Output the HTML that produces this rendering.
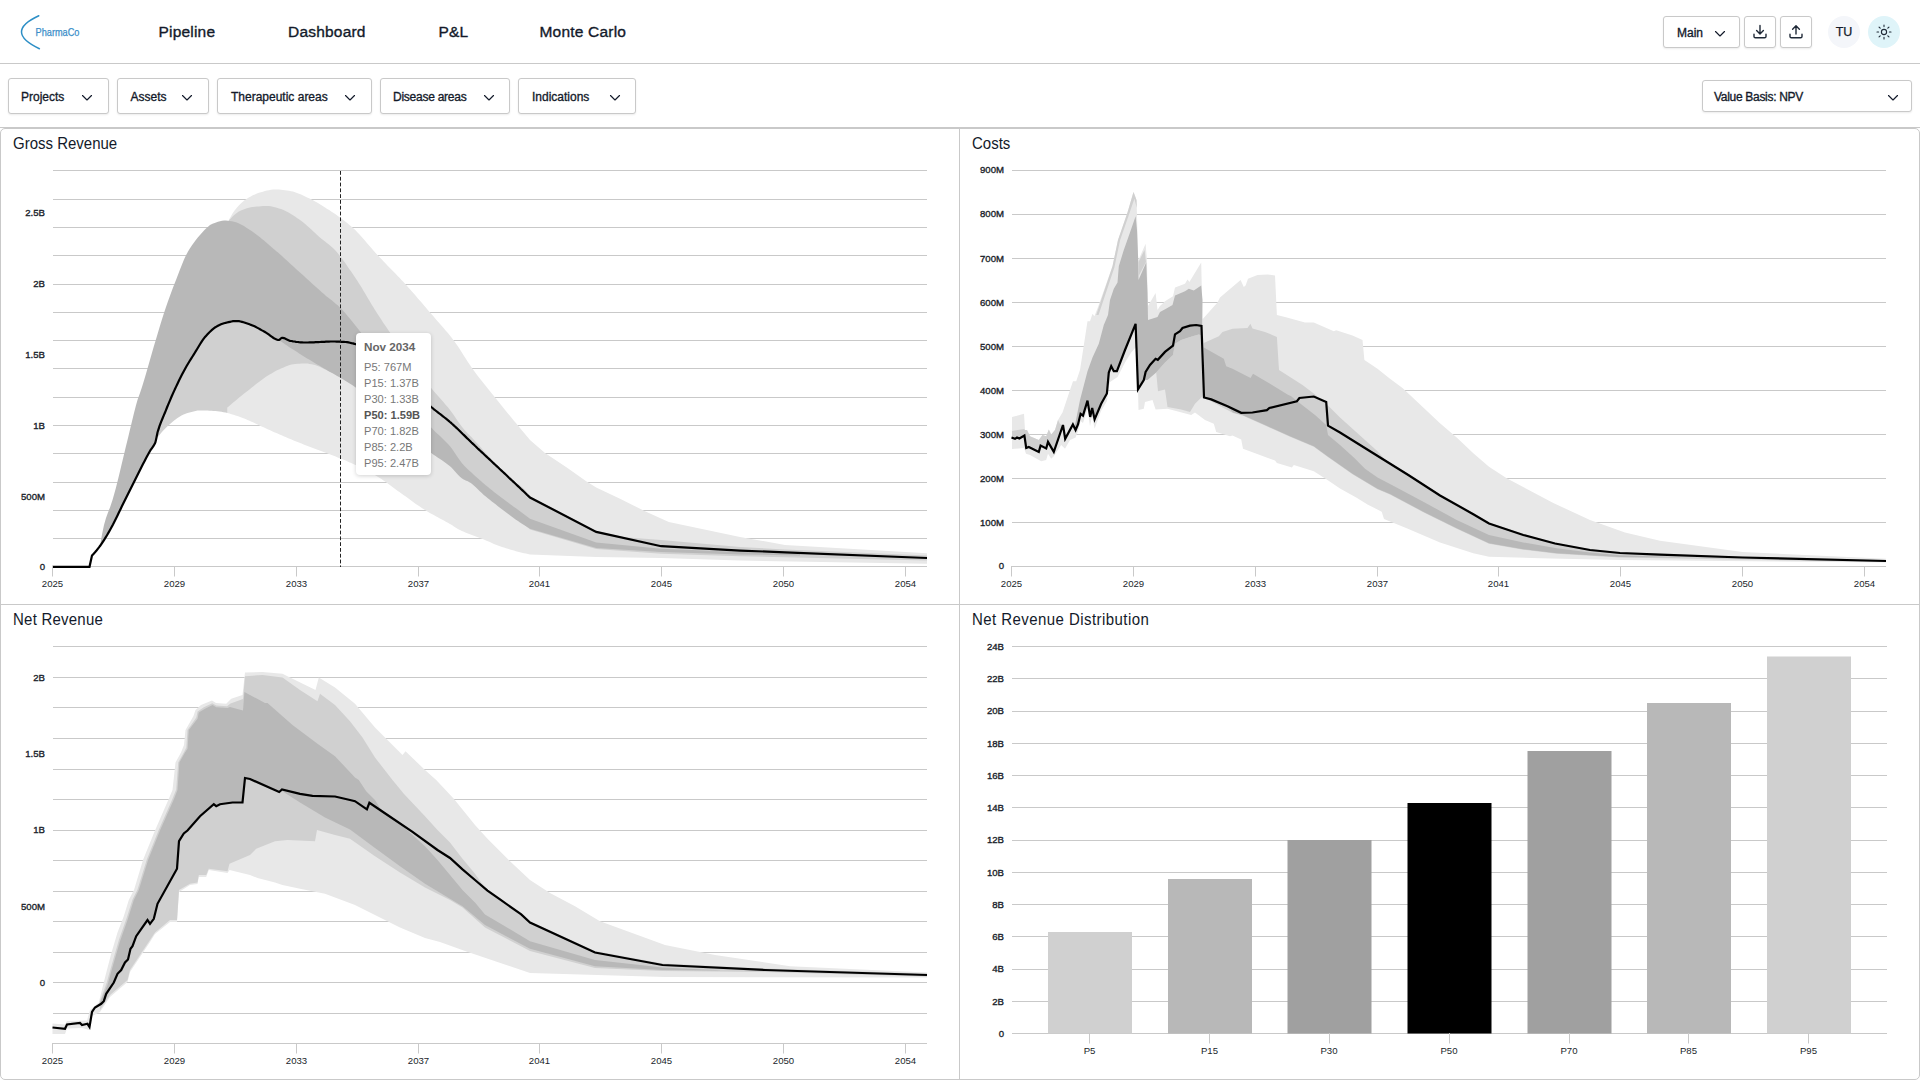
<!DOCTYPE html>
<html lang="en">
<head>
<meta charset="utf-8">
<title>PharmaCo - Monte Carlo</title>
<style>
*{box-sizing:border-box;margin:0;padding:0}
html,body{width:1920px;height:1080px;overflow:hidden;background:#fff}
body{font-family:"Liberation Sans",sans-serif;color:#131a2a;position:relative}
.hdr{position:absolute;left:0;top:0;width:1920px;height:64px;border-bottom:1px solid #c9c9c9;background:#fff}
.logo{position:absolute;left:0;top:0;width:110px;height:64px}
.nav a{position:absolute;top:23px;font-size:15.5px;line-height:18px;color:#131a2a;text-decoration:none;letter-spacing:.2px;-webkit-text-stroke:.35px #131a2a;white-space:nowrap}
.btn{position:absolute;border:1px solid #c9c9c9;border-radius:3px;background:#fff;box-shadow:0 1px 2px rgba(0,0,0,.08);font-size:12px;color:#131a2a;white-space:nowrap}
.btn span{position:absolute;top:0;line-height:100%;-webkit-text-stroke:.32px #131a2a}
.btn svg{position:absolute}
.av{position:absolute;width:32px;height:32px;border-radius:16px;top:16px;font-size:12.5px;line-height:33.5px;text-align:center;-webkit-text-stroke:.25px #131a2a}
.fbar{position:absolute;left:0;top:64px;width:1920px;height:64px;border-bottom:1px solid #c9c9c9}
.wrap{position:absolute;left:0;top:128px;width:1920px;height:952px;border:1px solid #c9c9c9;border-radius:5px}
.vline{position:absolute;left:959px;top:129px;width:1px;height:950px;background:#c9c9c9}
.hline{position:absolute;left:1px;top:604px;width:1918px;height:1px;background:#c9c9c9}
.ttl{position:absolute;font-size:15px;line-height:20px;color:#131a2a;white-space:nowrap;transform:scale(1,1.06);transform-origin:0 15px}
.charts{position:absolute;left:0;top:0}
.tip{position:absolute;left:356px;top:333px;width:75px;height:142px;background:#fff;border-radius:4px;box-shadow:0 1px 4px rgba(0,0,0,.18);font-size:11.1px;color:#777;white-space:nowrap}
.tip div{position:absolute;left:8px;line-height:14px}
.tip .h{font-weight:bold;color:#666;font-size:11.7px}
.tip .b{font-weight:bold;color:#555}
</style>
</head>
<body>
<div class="hdr">
  <svg class="logo" viewBox="0 0 110 64">
    <path d="M38.8 15.7 Q3.9 31.8 39.4 48.7" fill="none" stroke="#2d8fc6" stroke-width="1.5" stroke-linecap="round"/>
    <text x="35.6" y="35.7" font-family="'Liberation Sans', sans-serif" font-size="10.4" fill="#3a8ec9" stroke="#3a8ec9" stroke-width="0.25" textLength="43.8" lengthAdjust="spacingAndGlyphs">PharmaCo</text>
  </svg>
  <div class="nav">
    <a style="left:158.5px">Pipeline</a>
    <a style="left:288px">Dashboard</a>
    <a style="left:438.5px">P&amp;L</a>
    <a style="left:539.5px">Monte Carlo</a>
  </div>
  <div class="btn" style="left:1663px;top:16px;width:77px;height:32px"><span style="left:13px;top:10px">Main</span>
    <svg style="left:50px;top:13px" width="12" height="8" viewBox="0 0 12 8"><path d="M1.5 1.5 L6 6 L10.5 1.5" fill="none" stroke="#131a2a" stroke-width="1.15" stroke-linecap="round" stroke-linejoin="round"/></svg></div>
  <div class="btn" style="left:1744px;top:16px;width:32px;height:32px">
    <svg style="left:7px;top:7px" width="16" height="16" viewBox="0 0 16 16"><path d="M8 1.5 V9.6 M4.6 6.6 L8 10 L11.4 6.6 M2 10.2 V12.4 Q2 13.8 3.4 13.8 H12.6 Q14 13.8 14 12.4 V10.2" fill="none" stroke="#1f2937" stroke-width="1.4" stroke-linecap="round" stroke-linejoin="round"/></svg></div>
  <div class="btn" style="left:1780px;top:16px;width:32px;height:32px">
    <svg style="left:7px;top:7px" width="16" height="16" viewBox="0 0 16 16"><path d="M8 10 V2 M4.6 5.2 L8 1.8 L11.4 5.2 M2 10.2 V12.4 Q2 13.8 3.4 13.8 H12.6 Q14 13.8 14 12.4 V10.2" fill="none" stroke="#1f2937" stroke-width="1.4" stroke-linecap="round" stroke-linejoin="round"/></svg></div>
  <div class="av" style="left:1828px;background:#f4f6fa">TU</div>
  <div class="av" style="left:1868px;background:#dff4f9">
    <svg style="position:absolute;left:8px;top:8px" width="16" height="16" viewBox="0 0 16 16"><g fill="none" stroke="#1f2937" stroke-width="1.1" stroke-linecap="round"><circle cx="8" cy="8" r="2.6"/><path d="M8 1 V2.6 M8 13.4 V15 M1 8 H2.6 M13.4 8 H15 M3.05 3.05 L4.2 4.2 M11.8 11.8 L12.95 12.95 M3.05 12.95 L4.2 11.8 M11.8 4.2 L12.95 3.05"/></g></svg>
  </div>
</div>

<div class="fbar">
  <div class="btn" style="left:8px;top:14px;width:101px;height:36px"><span style="left:12px;top:12px">Projects</span><svg style="left:72px;top:15px" width="12" height="8" viewBox="0 0 12 8"><path d="M1.5 1.5 L6 6 L10.5 1.5" fill="none" stroke="#131a2a" stroke-width="1.15" stroke-linecap="round" stroke-linejoin="round"/></svg></div>
  <div class="btn" style="left:117px;top:14px;width:92px;height:36px"><span style="left:12.5px;top:12px">Assets</span><svg style="left:63px;top:15px" width="12" height="8" viewBox="0 0 12 8"><path d="M1.5 1.5 L6 6 L10.5 1.5" fill="none" stroke="#131a2a" stroke-width="1.15" stroke-linecap="round" stroke-linejoin="round"/></svg></div>
  <div class="btn" style="left:217px;top:14px;width:155px;height:36px"><span style="left:13px;top:12px">Therapeutic areas</span><svg style="left:126px;top:15px" width="12" height="8" viewBox="0 0 12 8"><path d="M1.5 1.5 L6 6 L10.5 1.5" fill="none" stroke="#131a2a" stroke-width="1.15" stroke-linecap="round" stroke-linejoin="round"/></svg></div>
  <div class="btn" style="left:380px;top:14px;width:130px;height:36px"><span style="left:12px;top:12px;letter-spacing:-.25px">Disease areas</span><svg style="left:102px;top:15px" width="12" height="8" viewBox="0 0 12 8"><path d="M1.5 1.5 L6 6 L10.5 1.5" fill="none" stroke="#131a2a" stroke-width="1.15" stroke-linecap="round" stroke-linejoin="round"/></svg></div>
  <div class="btn" style="left:518px;top:14px;width:118px;height:36px"><span style="left:13px;top:12px">Indications</span><svg style="left:90px;top:15px" width="12" height="8" viewBox="0 0 12 8"><path d="M1.5 1.5 L6 6 L10.5 1.5" fill="none" stroke="#131a2a" stroke-width="1.15" stroke-linecap="round" stroke-linejoin="round"/></svg></div>
  <div class="btn" style="left:1702px;top:16px;width:210px;height:32px"><span style="left:11px;top:10px;letter-spacing:-.3px">Value Basis: NPV</span><svg style="left:184px;top:13px" width="12" height="8" viewBox="0 0 12 8"><path d="M1.5 1.5 L6 6 L10.5 1.5" fill="none" stroke="#131a2a" stroke-width="1.15" stroke-linecap="round" stroke-linejoin="round"/></svg></div>
</div>

<div class="wrap"></div>
<div class="vline"></div>
<div class="hline"></div>
<div class="ttl" style="left:13px;top:134px">Gross Revenue</div>
<div class="ttl" style="left:972px;top:134px">Costs</div>
<div class="ttl" style="left:13px;top:610px;letter-spacing:.23px">Net Revenue</div>
<div class="ttl" style="left:972px;top:610px;letter-spacing:.44px">Net Revenue Distribution</div>

<svg class="charts" width="1920" height="1080" viewBox="0 0 1920 1080">
<g font-family="'Liberation Sans', sans-serif" fill="#1a1f2b">
<line x1="53.0" x2="927.0" y1="566.5" y2="566.5" stroke="#c9c9c9" stroke-width="1"/>
<line x1="53.0" x2="927.0" y1="538.5" y2="538.5" stroke="#c9c9c9" stroke-width="1"/>
<line x1="53.0" x2="927.0" y1="510.5" y2="510.5" stroke="#c9c9c9" stroke-width="1"/>
<line x1="53.0" x2="927.0" y1="482.5" y2="482.5" stroke="#c9c9c9" stroke-width="1"/>
<line x1="53.0" x2="927.0" y1="453.5" y2="453.5" stroke="#c9c9c9" stroke-width="1"/>
<line x1="53.0" x2="927.0" y1="425.5" y2="425.5" stroke="#c9c9c9" stroke-width="1"/>
<line x1="53.0" x2="927.0" y1="397.5" y2="397.5" stroke="#c9c9c9" stroke-width="1"/>
<line x1="53.0" x2="927.0" y1="368.5" y2="368.5" stroke="#c9c9c9" stroke-width="1"/>
<line x1="53.0" x2="927.0" y1="340.5" y2="340.5" stroke="#c9c9c9" stroke-width="1"/>
<line x1="53.0" x2="927.0" y1="312.5" y2="312.5" stroke="#c9c9c9" stroke-width="1"/>
<line x1="53.0" x2="927.0" y1="284.5" y2="284.5" stroke="#c9c9c9" stroke-width="1"/>
<line x1="53.0" x2="927.0" y1="255.5" y2="255.5" stroke="#c9c9c9" stroke-width="1"/>
<line x1="53.0" x2="927.0" y1="227.5" y2="227.5" stroke="#c9c9c9" stroke-width="1"/>
<line x1="53.0" x2="927.0" y1="199.5" y2="199.5" stroke="#c9c9c9" stroke-width="1"/>
<line x1="53.0" x2="927.0" y1="170.5" y2="170.5" stroke="#c9c9c9" stroke-width="1"/>
<polygon points="228.8,220.0 230.8,216.4 232.8,213.1 234.8,210.3 235.0,210.0 236.8,207.8 238.8,205.6 240.8,203.5 242.8,201.7 244.8,200.1 245.0,200.0 246.8,198.8 248.8,197.5 250.8,196.4 252.8,195.3 254.9,194.4 256.9,193.6 258.9,192.8 260.0,192.5 260.9,192.2 262.9,191.7 264.9,191.1 266.9,190.6 268.9,190.2 270.9,189.8 272.9,189.6 274.9,189.5 275.0,189.5 276.9,189.5 279.0,189.6 281.0,189.8 283.0,190.0 285.0,190.3 287.0,190.5 289.0,190.8 290.0,191.0 291.0,191.2 293.0,191.6 295.0,192.2 297.0,192.9 299.0,193.7 301.1,194.5 303.1,195.4 305.1,196.4 307.1,197.4 309.1,198.3 310.0,198.8 311.1,199.3 313.1,200.3 315.1,201.4 317.1,202.6 319.1,203.8 321.1,205.1 323.1,206.3 325.0,207.5 325.1,207.6 327.2,208.9 329.2,210.1 331.2,211.4 333.2,212.8 335.2,214.1 337.2,215.5 339.2,216.9 340.0,217.5 341.2,218.4 343.2,219.9 345.2,221.4 347.2,223.0 349.2,224.7 351.3,226.4 352.5,227.5 353.3,228.2 355.3,230.1 357.3,232.2 359.3,234.3 361.3,236.5 363.3,238.8 365.3,241.1 367.3,243.4 369.3,245.8 371.3,248.1 373.4,250.4 375.4,252.7 377.4,254.9 377.5,255.0 379.4,257.0 381.4,259.1 383.4,261.2 385.4,263.3 387.4,265.4 389.4,267.4 391.4,269.5 393.4,271.5 395.4,273.6 397.4,275.7 399.5,277.8 401.5,279.9 403.5,282.1 405.0,283.8 405.5,284.3 407.5,286.5 409.5,288.8 411.5,291.0 413.5,293.3 415.5,295.6 417.5,298.0 419.5,300.3 421.6,302.6 423.6,305.0 425.6,307.3 427.6,309.7 429.6,312.0 430.0,312.5 431.6,314.3 433.6,316.6 435.6,318.9 437.6,321.2 439.6,323.4 441.6,325.7 443.6,328.0 445.6,330.4 447.7,332.8 449.7,335.3 451.7,337.8 453.7,340.4 453.8,340.5 455.7,343.2 457.7,346.1 459.7,349.1 461.7,352.3 463.7,355.4 465.7,358.6 467.7,361.7 469.8,364.8 471.8,367.7 472.5,368.8 473.8,370.5 475.8,373.2 477.8,375.9 479.8,378.5 481.8,381.0 483.8,383.6 485.8,386.1 487.8,388.6 489.8,391.1 491.8,393.6 493.9,396.1 495.0,397.5 495.9,398.6 497.9,401.1 499.9,403.5 501.9,406.0 503.9,408.5 505.9,410.9 507.9,413.4 509.9,415.8 511.9,418.3 513.9,420.7 515.9,423.1 517.5,425.0 518.0,425.5 520.0,428.0 522.0,430.4 524.0,432.8 526.0,435.2 528.0,437.6 530.0,440.0 545.0,453.0 567.5,468.0 586.2,481.2 596.2,487.5 620.0,498.8 635.0,506.2 645.0,511.2 668.8,521.9 740.0,536.9 785.0,545.0 927.0,553.2 927.0,563.8 740.0,560.6 661.2,558.1 596.2,556.9 530.0,554.4 528.0,554.0 526.0,553.6 524.0,553.2 522.0,552.7 520.0,552.3 518.0,551.7 516.0,551.2 514.0,550.6 512.0,550.1 510.0,549.5 508.0,548.8 506.0,548.2 504.0,547.6 502.0,546.9 500.0,546.2 500.0,546.2 497.9,545.5 495.9,544.7 493.9,543.9 491.9,543.0 489.9,542.1 487.9,541.2 485.9,540.4 485.0,540.0 483.9,539.6 481.9,538.8 479.9,538.0 477.9,537.3 475.9,536.5 473.9,535.8 471.9,535.0 469.9,534.3 467.9,533.5 465.9,532.7 463.9,531.8 461.9,530.9 460.0,530.0 459.9,529.9 457.9,528.9 455.9,527.7 453.9,526.4 451.9,525.1 450.0,524.0 449.9,523.9 447.9,522.8 445.9,521.7 443.9,520.6 441.9,519.5 439.9,518.4 437.8,517.3 435.8,516.2 433.8,515.1 431.8,514.0 429.8,512.9 427.8,511.7 425.8,510.5 425.0,510.0 423.8,509.3 421.8,508.0 419.8,506.6 417.8,505.3 415.8,503.9 413.8,502.4 411.8,501.0 409.8,499.5 407.8,498.1 405.8,496.6 403.8,495.2 401.8,493.8 400.0,492.5 399.8,492.3 397.8,490.9 395.8,489.5 393.8,488.0 391.8,486.5 389.8,485.0 387.8,483.6 385.8,482.1 383.8,480.7 381.8,479.3 379.8,478.0 377.7,476.7 375.7,475.4 375.0,475.0 373.7,474.3 371.7,473.1 369.7,472.0 367.7,471.0 365.7,469.9 363.7,468.9 361.7,467.9 359.7,467.0 357.7,466.0 355.7,465.1 353.7,464.2 351.7,463.3 350.0,462.5 349.7,462.4 347.7,461.5 345.7,460.6 343.7,459.8 341.7,459.0 339.7,458.2 337.7,457.4 335.7,456.6 333.7,455.8 331.7,455.1 329.7,454.3 327.7,453.5 325.7,452.8 325.0,452.5 323.7,452.0 321.7,451.2 319.7,450.5 317.6,449.7 315.6,449.0 313.6,448.2 311.6,447.5 309.6,446.7 307.6,446.0 305.6,445.2 303.6,444.4 301.6,443.6 300.0,443.0 299.6,442.8 297.6,442.0 295.6,441.2 293.6,440.4 291.6,439.6 289.6,438.7 287.6,437.9 285.6,437.0 283.6,436.2 281.6,435.3 279.6,434.5 277.6,433.6 275.6,432.7 275.0,432.5 273.6,431.9 271.6,431.0 269.6,430.1 267.6,429.2 265.6,428.2 263.6,427.3 261.6,426.4 259.6,425.4 257.5,424.5 255.5,423.5 253.5,422.6 251.5,421.7 249.5,420.8 247.5,420.0 245.5,419.1 243.5,418.3 241.5,417.6 240.0,417.0 239.5,416.8 237.5,416.1 235.5,415.5 233.5,414.8 231.5,414.2 229.5,413.6 227.5,413.0" fill="#e8e8e8"/>
<polygon points="157.5,432.5 158.0,430.8 159.5,426.1 161.0,422.1 162.5,418.5 164.0,414.9 165.0,412.5 165.5,411.3 167.0,407.5 168.5,403.9 170.0,400.3 171.5,396.8 173.0,393.4 174.5,390.1 175.0,389.0 176.0,386.9 177.5,383.7 179.0,380.6 180.5,377.6 182.0,374.6 183.5,371.8 185.0,369.0 186.5,366.3 188.0,363.8 189.5,361.3 191.0,358.9 192.5,356.5 194.0,354.1 195.0,352.5 195.5,351.7 197.0,349.2 198.5,346.7 200.0,344.2 201.5,341.8 203.0,339.6 204.5,337.6 205.0,337.0 206.0,335.9 207.5,334.3 209.0,332.7 210.5,331.3 212.0,329.9 213.5,328.7 215.0,327.5 216.5,326.6 217.5,326.0 218.0,325.7 219.5,325.0 221.0,324.3 222.5,323.8 224.0,323.3 225.0,323.0 228.8,220.5 230.8,218.4 232.8,216.3 234.8,214.5 236.8,212.9 238.8,211.6 240.0,211.0 240.8,210.6 242.8,209.8 244.8,209.0 246.8,208.3 248.8,207.7 250.8,207.2 252.5,207.0 252.8,207.0 254.9,206.7 256.9,206.5 258.9,206.4 260.9,206.2 262.9,206.1 264.9,206.0 266.9,206.0 267.5,206.0 268.9,206.1 270.9,206.3 272.9,206.7 274.9,207.2 276.9,207.8 279.0,208.4 280.0,208.8 281.0,209.1 283.0,209.8 285.0,210.7 287.0,211.7 289.0,212.8 291.0,214.0 293.0,215.3 295.0,216.6 297.0,218.0 299.0,219.3 300.0,220.0 301.1,220.7 303.1,222.3 305.1,223.9 307.1,225.7 309.1,227.5 311.1,229.3 313.1,231.2 315.1,233.1 317.1,235.0 319.1,236.7 320.0,237.5 321.1,238.4 323.1,240.1 325.1,241.6 327.2,243.2 329.2,244.7 331.2,246.4 333.2,248.2 335.0,250.0 335.2,250.2 337.2,252.4 339.2,254.9 341.2,257.5 343.2,260.3 345.2,263.1 347.2,266.0 349.2,268.9 350.0,270.0 351.3,271.8 353.3,274.7 355.3,277.7 357.3,280.8 359.3,283.9 360.0,285.0 361.3,287.1 363.3,290.4 365.3,293.8 367.3,297.2 369.3,300.6 371.3,304.0 373.4,307.3 375.0,310.0 375.4,310.6 377.4,313.7 379.4,316.8 381.4,319.8 383.4,322.9 385.4,325.8 387.4,328.8 389.4,331.7 390.0,332.5 391.4,334.5 393.4,337.4 395.4,340.2 397.4,343.1 399.5,345.9 401.5,348.7 403.5,351.5 405.5,354.2 407.5,357.0 409.5,359.7 411.5,362.4 413.5,365.1 415.5,367.8 417.5,370.4 419.5,373.1 421.6,375.7 423.6,378.3 425.6,380.8 427.6,383.4 429.6,385.9 431.2,388.0 431.6,388.4 433.6,390.9 435.6,393.2 437.6,395.5 439.6,397.8 441.6,400.0 443.6,402.3 445.6,404.7 447.7,407.1 449.7,409.6 450.0,410.0 451.7,412.2 453.7,415.1 455.7,418.0 457.7,421.0 459.7,423.8 461.7,426.5 462.5,427.5 463.7,429.0 465.7,431.2 467.7,433.4 469.8,435.5 471.8,437.6 473.8,439.7 475.0,441.0 475.8,441.9 477.8,444.1 479.8,446.3 481.8,448.6 483.8,450.9 485.8,453.1 487.5,455.0 487.8,455.4 489.8,457.6 491.8,459.9 493.9,462.2 495.9,464.4 497.9,466.6 499.9,468.6 500.0,468.8 501.9,470.6 503.9,472.5 505.9,474.3 507.9,476.1 509.9,477.8 511.9,479.5 512.5,480.0 513.9,481.2 515.9,482.7 518.0,484.1 520.0,485.6 522.0,487.2 524.0,489.0 525.0,490.0 526.0,491.1 528.0,493.7 530.0,496.5 596.2,530.9 625.0,537.2 661.2,540.0 740.0,546.9 785.0,549.5 927.0,555.5 927.0,560.5 785.0,557.2 740.0,556.2 661.2,553.8 596.2,549.0 530.0,529.5 528.0,527.8 526.0,526.0 524.0,524.3 522.0,522.6 520.0,521.0 520.0,521.0 518.0,519.4 516.0,517.8 514.0,516.2 512.0,514.6 510.0,513.1 508.0,511.5 506.0,510.0 504.0,508.5 502.0,507.0 500.0,505.4 497.9,503.9 495.9,502.4 493.9,500.9 491.9,499.4 489.9,497.8 487.9,496.3 485.9,494.7 483.9,493.1 482.5,492.0 481.9,491.5 479.9,489.9 477.9,488.2 475.9,486.6 473.9,484.9 471.9,483.1 469.9,481.4 467.9,479.7 465.9,478.0 463.9,476.2 461.9,474.5 459.9,472.9 457.9,471.2 455.9,469.6 453.9,468.0 451.9,466.4 450.0,465.0 449.9,464.9 447.9,463.5 445.9,462.1 443.9,460.7 441.9,459.4 439.9,458.1 437.8,456.8 435.8,455.4 433.8,454.1 431.8,452.6 431.0,452.0 429.8,451.1 427.8,449.6 425.8,448.0 423.8,446.3 421.8,444.7 419.8,443.0 417.8,441.2 415.8,439.5 413.8,437.7 411.8,435.8 409.8,434.0 407.8,432.1 405.8,430.3 403.8,428.4 401.8,426.5 399.8,424.6 397.8,422.7 395.8,420.7 393.8,418.8 391.8,416.9 389.8,415.0 387.8,413.1 385.8,411.3 383.8,409.4 381.8,407.5 379.8,405.7 377.7,403.9 375.7,402.1 373.7,400.4 371.7,398.7 369.7,397.0 367.7,395.4 365.7,393.8 363.7,392.2 361.7,390.7 359.7,389.2 357.7,387.8 355.7,386.5 355.0,386.0 353.7,385.2 351.7,383.9 349.7,382.7 347.7,381.5 345.7,380.3 343.7,379.2 341.7,378.1 339.7,377.0 337.7,375.9 335.7,374.8 333.7,373.8 331.7,372.8 329.7,371.8 327.7,370.8 325.7,369.8 325.0,369.5 323.7,368.8 321.7,367.8 319.7,366.8 317.6,365.9 315.6,365.2 315.0,365.0 313.6,364.7 311.6,364.3 309.6,363.9 307.6,363.6 305.6,363.5 305.0,363.5 303.6,363.5 301.6,363.6 299.6,363.7 297.6,363.8 295.6,363.9 295.0,364.0 293.6,364.2 291.6,364.6 289.6,365.1 287.6,365.8 285.6,366.6 283.6,367.5 281.6,368.3 280.0,369.0 279.6,369.2 277.6,370.1 275.6,371.1 273.6,372.2 271.6,373.4 269.6,374.6 267.6,375.8 265.6,377.1 265.0,377.5 263.6,378.5 261.6,379.9 259.6,381.4 257.5,383.0 255.5,384.6 253.5,386.2 251.5,387.8 250.0,389.0 249.5,389.4 247.5,390.9 245.5,392.5 243.5,394.1 241.5,395.7 239.5,397.3 237.5,399.0 237.5,399.0 235.5,400.7 233.5,402.3 231.5,404.0 229.5,405.8 227.5,407.5 227.5,413.0 225.5,412.6 223.5,412.2 221.5,411.8 219.5,411.5 217.5,411.2 215.5,411.0 215.0,411.0 213.5,410.9 211.5,410.8 209.5,410.7 207.5,410.6 205.5,410.6 203.5,410.5 201.5,410.5 200.0,410.5 199.5,410.5 197.5,410.6 195.5,410.9 193.5,411.4 191.5,411.9 189.5,412.5 187.5,413.1 185.5,413.8 185.0,414.0 183.5,414.6 181.5,415.6 179.5,416.7 177.5,418.1 175.5,419.6 173.5,421.1 171.5,422.8 170.0,424.0 169.5,424.4 167.5,426.2 165.5,428.2 163.5,430.3 161.5,432.6 159.5,435.0 157.5,437.5" fill="#d0d0d0"/>
<polygon points="100.0,546.0 102.0,534.5 104.0,525.0 106.0,518.1 108.0,512.6 110.0,507.4 112.0,501.6 112.5,500.0 114.0,494.8 116.0,487.4 118.0,479.4 120.0,471.2 122.0,462.8 124.0,454.4 126.0,446.1 127.5,440.0 128.0,438.0 130.0,429.6 132.0,421.2 134.0,412.9 136.0,405.2 137.5,400.0 138.0,398.4 140.0,392.9 141.0,390.0 142.0,386.9 144.0,380.4 146.0,373.7 148.0,366.7 150.0,359.7 152.0,352.7 154.0,345.8 155.0,342.5 156.0,339.2 158.0,332.5 160.0,325.8 162.0,319.3 164.0,313.0 165.0,310.0 166.0,307.0 168.0,301.3 170.0,295.7 172.0,290.3 174.0,285.1 175.0,282.5 176.0,279.9 178.0,274.7 180.0,269.4 182.0,264.4 184.0,259.6 186.0,255.3 187.5,252.5 188.0,251.6 190.0,248.3 192.0,245.2 194.0,242.4 196.0,239.7 198.0,237.3 200.0,235.0 202.0,232.8 204.0,230.6 206.0,228.5 208.0,226.7 210.0,225.1 212.0,224.0 212.5,223.8 214.0,223.2 216.0,222.4 218.0,221.7 220.0,221.2 222.0,220.8 224.0,220.5 225.0,220.5 226.0,220.5 228.0,220.7 230.0,221.0 232.0,221.3 234.0,221.8 235.0,222.0 236.0,222.3 238.0,223.0 240.0,223.9 242.0,225.0 244.0,226.1 246.0,227.4 248.0,228.7 250.0,230.0 252.0,231.3 254.0,232.7 256.0,234.2 258.0,235.7 260.0,237.3 262.0,238.9 264.0,240.6 266.0,242.3 268.0,244.0 270.0,245.7 272.0,247.4 274.0,249.2 275.0,250.0 276.0,250.9 278.0,252.6 280.0,254.3 282.0,256.1 284.0,257.9 286.0,259.7 288.0,261.5 290.0,263.4 292.0,265.2 294.0,267.0 296.0,268.9 298.0,270.7 300.0,272.5 302.0,274.3 304.0,276.1 306.0,277.9 308.0,279.8 310.0,281.6 312.0,283.4 314.0,285.2 316.0,287.0 318.0,288.8 320.0,290.6 322.0,292.4 324.0,294.1 325.0,295.0 326.0,295.9 328.0,297.5 330.0,299.1 332.0,300.6 334.0,302.2 336.0,303.9 338.0,305.6 340.0,307.5 342.0,309.5 344.0,311.7 346.0,314.0 348.0,316.4 350.0,318.8 352.0,321.3 354.0,323.8 355.0,325.0 356.0,326.2 358.0,328.7 360.0,331.3 362.0,333.9 364.0,336.5 366.0,339.2 368.0,341.9 370.0,344.6 372.0,347.4 374.0,350.1 376.0,352.9 378.0,355.7 380.0,358.6 382.0,361.4 384.0,364.3 386.0,367.1 388.0,370.0 390.0,372.9 392.0,375.7 394.0,378.6 396.0,381.5 398.0,384.3 400.0,387.1 402.0,389.9 404.0,392.7 406.0,395.5 408.0,398.3 410.0,401.0 412.0,403.7 414.0,406.3 416.0,409.0 418.0,411.6 420.0,414.1 422.0,416.6 424.0,419.1 426.0,421.5 428.0,423.8 430.0,426.1 431.2,427.5 432.0,428.3 434.0,430.4 436.0,432.4 438.0,434.3 440.0,436.1 442.0,438.0 444.0,439.9 446.0,441.9 448.0,444.0 450.0,446.2 452.0,448.8 454.0,451.7 456.0,454.7 458.0,457.7 460.0,460.6 462.0,463.2 462.5,463.8 464.0,465.4 466.0,467.4 468.0,469.4 470.0,471.2 472.0,473.1 474.0,475.0 476.0,476.8 478.0,478.6 480.0,480.3 482.0,482.1 482.5,482.5 484.0,483.8 486.0,485.4 488.0,487.1 490.0,488.7 492.0,490.3 494.0,491.9 496.0,493.4 498.0,495.0 500.0,496.5 501.2,497.5 502.0,498.1 504.0,499.6 506.0,501.1 508.0,502.5 510.0,504.0 512.0,505.4 514.0,506.9 516.0,508.3 518.0,509.8 520.0,511.2 522.0,512.7 524.0,514.2 526.0,515.7 528.0,517.2 530.0,518.8 596.2,542.5 661.2,548.8 740.0,551.9 800.0,554.3 800.0,555.5 740.0,554.4 661.2,551.9 596.2,548.1 530.0,528.7 528.0,527.6 526.0,526.3 524.0,525.1 522.0,523.8 520.0,522.5 520.0,522.5 518.0,521.1 515.9,519.7 513.9,518.3 511.9,516.8 509.9,515.3 507.9,513.8 505.9,512.3 503.9,510.8 501.9,509.2 501.2,508.8 499.9,507.7 497.9,506.2 495.9,504.6 493.9,503.0 491.8,501.4 489.8,499.8 487.8,498.2 485.8,496.5 483.8,494.9 482.5,493.8 481.8,493.1 479.8,491.3 477.8,489.3 475.8,487.3 473.8,485.4 471.8,483.7 470.0,482.5 469.8,482.4 467.8,481.3 465.7,480.4 463.7,479.5 462.5,478.8 461.7,478.2 459.7,476.5 457.7,474.4 455.7,472.2 453.7,469.9 451.7,467.8 450.0,466.2 449.7,466.0 447.7,464.4 445.7,462.9 443.7,461.5 441.6,460.1 439.6,458.8 437.6,457.5 435.6,456.1 433.6,454.7 431.6,453.3 431.2,453.0 429.6,451.7 427.6,450.1 425.6,448.5 423.6,446.9 421.6,445.2 419.6,443.5 417.6,441.8 415.5,440.0 413.5,438.2 411.5,436.4 409.5,434.6 407.5,432.8 405.5,431.0 403.5,429.1 401.5,427.3 399.5,425.4 397.5,423.5 395.5,421.6 393.5,419.8 391.4,417.9 389.4,416.0 387.4,414.2 385.4,412.3 383.4,410.5 381.4,408.7 379.4,406.9 377.4,405.1 375.4,403.3 373.4,401.6 371.4,399.9 369.4,398.2 367.4,396.5 365.3,394.9 363.3,393.3 361.3,391.7 359.3,390.2 357.3,388.7 355.3,387.2 355.0,387.0 353.3,385.8 351.3,384.5 349.3,383.2 347.3,381.9 345.3,380.7 343.3,379.5 341.2,378.2 340.0,377.5 339.2,377.0 337.2,375.9 335.2,374.7 333.2,373.6 331.2,372.5 329.2,371.4 327.2,370.3 325.2,369.1 325.0,369.0 323.2,367.9 321.2,366.8 319.2,365.6 317.2,364.4 315.1,363.2 313.1,362.0 311.1,360.8 309.1,359.6 307.1,358.4 305.1,357.2 303.1,355.9 301.1,354.7 300.0,354.0 299.1,353.4 297.1,352.1 295.1,350.8 293.1,349.5 291.0,348.2 289.0,346.9 287.0,345.5 285.0,344.2 283.0,342.8 281.0,341.4 279.0,340.0 279.0,340.0 278.0,339.9 276.5,339.5 275.0,338.8 273.5,338.0 272.0,336.9 270.5,335.8 269.0,334.7 267.5,333.6 266.0,332.6 265.0,332.0 264.5,331.7 263.0,330.9 261.5,330.1 260.0,329.2 258.5,328.4 257.0,327.6 255.5,326.8 254.0,326.1 252.5,325.4 251.0,324.9 250.0,324.5 249.5,324.3 248.0,323.8 246.5,323.3 245.0,322.8 243.5,322.3 242.0,321.9 240.5,321.5 239.0,321.2 237.5,321.1 236.0,321.0 234.5,321.1 233.0,321.2 231.5,321.5 230.0,321.8 228.5,322.1 227.0,322.5 225.5,322.9 225.0,323.0 224.0,323.3 222.5,323.8 221.0,324.3 219.5,325.0 218.0,325.7 217.5,326.0 216.5,326.6 215.0,327.5 213.5,328.7 212.0,329.9 210.5,331.3 209.0,332.7 207.5,334.3 206.0,335.9 205.0,337.0 204.5,337.6 203.0,339.6 201.5,341.8 200.0,344.2 198.5,346.7 197.0,349.2 195.5,351.7 195.0,352.5 194.0,354.1 192.5,356.5 191.0,358.9 189.5,361.3 188.0,363.8 186.5,366.3 185.0,369.0 183.5,371.8 182.0,374.6 180.5,377.6 179.0,380.6 177.5,383.7 176.0,386.9 175.0,389.0 174.5,390.1 173.0,393.4 171.5,396.8 170.0,400.3 168.5,403.9 167.0,407.5 165.5,411.3 165.0,412.5 164.0,414.9 162.5,418.5 161.0,422.1 159.5,426.1 158.0,430.8 157.5,432.5 156.5,437.5 155.5,442.0 155.0,443.2 153.5,446.0 152.0,448.1 150.5,450.2 150.0,451.0 149.0,452.8 147.5,455.5 146.0,458.3 144.5,461.2 143.0,464.1 141.5,467.1 140.0,470.0 138.5,472.9 137.0,475.9 135.5,478.9 134.0,481.9 132.5,484.9 131.0,487.9 129.5,490.9 128.0,494.0 126.5,497.0 125.0,500.0 123.5,503.0 122.0,506.1 120.5,509.2 119.0,512.3 117.5,515.4 116.0,518.5 114.5,521.5 113.0,524.5 111.5,527.3 110.0,530.0 108.5,532.6 107.0,535.2 105.5,537.7 104.0,540.1 102.5,542.4 101.0,544.6 100.0,546.0" fill="#b8b8b8"/>
<polyline points="52.5,566.8 89.5,566.8 92.0,555.5 93.5,553.9 95.0,552.3 96.5,550.5 98.0,548.6 99.5,546.7 100.0,546.0 101.0,544.6 102.5,542.4 104.0,540.1 105.5,537.7 107.0,535.2 108.5,532.6 110.0,530.0 111.5,527.3 113.0,524.5 114.5,521.5 116.0,518.5 117.5,515.4 119.0,512.3 120.5,509.2 122.0,506.1 123.5,503.0 125.0,500.0 126.5,497.0 128.0,494.0 129.5,490.9 131.0,487.9 132.5,484.9 134.0,481.9 135.5,478.9 137.0,475.9 138.5,472.9 140.0,470.0 141.5,467.1 143.0,464.1 144.5,461.2 146.0,458.3 147.5,455.5 149.0,452.8 150.0,451.0 150.5,450.2 152.0,448.1 153.5,446.0 155.0,443.2 155.5,442.0 156.5,437.5 157.5,432.5 158.0,430.8 159.5,426.1 161.0,422.1 162.5,418.5 164.0,414.9 165.0,412.5 165.5,411.3 167.0,407.5 168.5,403.9 170.0,400.3 171.5,396.8 173.0,393.4 174.5,390.1 175.0,389.0 176.0,386.9 177.5,383.7 179.0,380.6 180.5,377.6 182.0,374.6 183.5,371.8 185.0,369.0 186.5,366.3 188.0,363.8 189.5,361.3 191.0,358.9 192.5,356.5 194.0,354.1 195.0,352.5 195.5,351.7 197.0,349.2 198.5,346.7 200.0,344.2 201.5,341.8 203.0,339.6 204.5,337.6 205.0,337.0 206.0,335.9 207.5,334.3 209.0,332.7 210.5,331.3 212.0,329.9 213.5,328.7 215.0,327.5 216.5,326.6 217.5,326.0 218.0,325.7 219.5,325.0 221.0,324.3 222.5,323.8 224.0,323.3 225.0,323.0 225.5,322.9 227.0,322.5 228.5,322.1 230.0,321.8 231.5,321.5 233.0,321.2 234.5,321.1 236.0,321.0 237.5,321.1 239.0,321.2 240.5,321.5 242.0,321.9 243.5,322.3 245.0,322.8 246.5,323.3 248.0,323.8 249.5,324.3 250.0,324.5 251.0,324.9 252.5,325.4 254.0,326.1 255.5,326.8 257.0,327.6 258.5,328.4 260.0,329.2 261.5,330.1 263.0,330.9 264.5,331.7 265.0,332.0 266.0,332.6 267.5,333.6 269.0,334.7 270.5,335.8 272.0,336.9 273.5,338.0 275.0,338.8 276.5,339.5 278.0,339.9 279.0,340.0 279.5,339.8 281.0,338.3 282.0,337.8 282.5,337.8 284.0,338.1 285.5,338.8 287.0,339.6 288.5,340.3 290.0,340.8 291.5,341.0 293.0,341.3 294.5,341.5 296.0,341.8 297.5,342.0 299.0,342.2 300.5,342.3 302.0,342.4 303.5,342.5 305.0,342.5 306.5,342.5 308.0,342.5 309.5,342.4 311.0,342.4 312.5,342.3 314.0,342.3 315.5,342.2 317.0,342.1 318.5,342.1 320.0,342.0 321.5,341.9 323.0,341.9 324.5,341.8 326.0,341.7 327.5,341.6 329.0,341.6 330.5,341.5 332.0,341.5 332.5,341.5 333.5,341.5 335.0,341.5 336.5,341.6 338.0,341.6 339.5,341.7 341.0,341.8 342.5,341.8 344.0,341.9 345.0,342.0 345.5,342.0 347.0,342.2 348.5,342.4 350.0,342.7 351.5,343.1 353.0,343.4 354.5,343.9 355.0,344.0 356.0,344.3 357.5,344.9 359.0,345.6 360.5,346.3 362.0,347.2 363.5,348.2 365.0,349.2 366.5,350.3 368.0,351.4 369.5,352.5 371.0,353.7 372.5,355.0 374.0,356.2 375.5,357.4 377.0,358.6 378.5,359.8 380.0,361.0 381.5,362.2 383.0,363.4 384.5,364.6 386.0,365.9 387.5,367.2 389.0,368.5 390.5,369.8 392.0,371.1 393.5,372.5 395.0,373.9 396.5,375.2 398.0,376.6 399.5,378.0 401.0,379.4 402.5,380.7 404.0,382.1 405.0,383.0 405.5,383.4 407.0,384.8 408.5,386.2 410.0,387.6 411.5,389.0 413.0,390.4 414.5,391.8 416.0,393.2 417.5,394.6 419.0,396.0 420.5,397.4 422.0,398.8 423.5,400.1 425.0,401.5 426.5,402.8 428.0,404.2 429.5,405.5 431.0,406.8 431.2,407.0 432.5,408.0 434.0,409.3 435.5,410.5 437.0,411.7 438.5,412.8 440.0,414.0 441.5,415.1 443.0,416.3 444.5,417.5 446.0,418.7 447.5,419.9 449.0,421.1 450.0,422.0 450.5,422.4 452.0,423.8 453.5,425.1 455.0,426.5 456.5,427.9 458.0,429.3 459.5,430.7 461.0,432.2 462.5,433.7 464.0,435.1 465.5,436.6 467.0,438.1 468.5,439.5 470.0,441.0 471.5,442.5 473.0,443.9 474.5,445.3 475.0,445.8 476.0,446.7 477.5,448.2 479.0,449.6 480.5,451.0 482.0,452.4 483.5,453.8 485.0,455.2 486.5,456.6 488.0,458.0 489.5,459.4 491.0,460.8 492.5,462.2 494.0,463.6 495.5,465.0 497.0,466.4 498.5,467.8 500.0,469.2 501.5,470.6 503.0,472.0 504.5,473.4 506.0,474.8 507.5,476.2 509.0,477.7 510.5,479.1 512.0,480.5 513.5,481.9 515.0,483.3 516.5,484.7 518.0,486.1 519.5,487.5 521.0,489.0 522.5,490.4 524.0,491.8 525.5,493.2 527.0,494.7 528.5,496.1 530.0,497.5 596.2,531.9 661.2,546.2 740.0,550.6 785.0,552.3 927.0,558.0" fill="none" stroke="#000" stroke-width="2.2" stroke-linejoin="miter" stroke-linecap="butt"/>
<text x="45.0" y="570.4" text-anchor="end" font-size="9.6" stroke="#1a1f2b" stroke-width="0.35" class="yl">0</text>
<text x="45.0" y="499.6" text-anchor="end" font-size="9.6" stroke="#1a1f2b" stroke-width="0.35" class="yl">500M</text>
<text x="45.0" y="428.7" text-anchor="end" font-size="9.6" stroke="#1a1f2b" stroke-width="0.35" class="yl">1B</text>
<text x="45.0" y="357.9" text-anchor="end" font-size="9.6" stroke="#1a1f2b" stroke-width="0.35" class="yl">1.5B</text>
<text x="45.0" y="287.1" text-anchor="end" font-size="9.6" stroke="#1a1f2b" stroke-width="0.35" class="yl">2B</text>
<text x="45.0" y="216.3" text-anchor="end" font-size="9.6" stroke="#1a1f2b" stroke-width="0.35" class="yl">2.5B</text>
<line x1="52.5" x2="52.5" y1="566.0" y2="576.5" stroke="#c9c9c9" stroke-width="1"/>
<text x="52.5" y="587.0" text-anchor="middle" font-size="9.6" class="xl">2025</text>
<line x1="174.5" x2="174.5" y1="566.0" y2="576.5" stroke="#c9c9c9" stroke-width="1"/>
<text x="174.5" y="587.0" text-anchor="middle" font-size="9.6" class="xl">2029</text>
<line x1="296.5" x2="296.5" y1="566.0" y2="576.5" stroke="#c9c9c9" stroke-width="1"/>
<text x="296.5" y="587.0" text-anchor="middle" font-size="9.6" class="xl">2033</text>
<line x1="418.5" x2="418.5" y1="566.0" y2="576.5" stroke="#c9c9c9" stroke-width="1"/>
<text x="418.5" y="587.0" text-anchor="middle" font-size="9.6" class="xl">2037</text>
<line x1="539.5" x2="539.5" y1="566.0" y2="576.5" stroke="#c9c9c9" stroke-width="1"/>
<text x="539.5" y="587.0" text-anchor="middle" font-size="9.6" class="xl">2041</text>
<line x1="661.5" x2="661.5" y1="566.0" y2="576.5" stroke="#c9c9c9" stroke-width="1"/>
<text x="661.5" y="587.0" text-anchor="middle" font-size="9.6" class="xl">2045</text>
<line x1="783.5" x2="783.5" y1="566.0" y2="576.5" stroke="#c9c9c9" stroke-width="1"/>
<text x="783.5" y="587.0" text-anchor="middle" font-size="9.6" class="xl">2050</text>
<line x1="905.5" x2="905.5" y1="566.0" y2="576.5" stroke="#c9c9c9" stroke-width="1"/>
<text x="905.5" y="587.0" text-anchor="middle" font-size="9.6" class="xl">2054</text>
<line x1="340.5" x2="340.5" y1="171" y2="567" stroke="#222" stroke-width="1" stroke-dasharray="3.8,2"/>
<line x1="1012.0" x2="1886.0" y1="566.5" y2="566.5" stroke="#c9c9c9" stroke-width="1"/>
<line x1="1012.0" x2="1886.0" y1="522.5" y2="522.5" stroke="#c9c9c9" stroke-width="1"/>
<line x1="1012.0" x2="1886.0" y1="478.5" y2="478.5" stroke="#c9c9c9" stroke-width="1"/>
<line x1="1012.0" x2="1886.0" y1="434.5" y2="434.5" stroke="#c9c9c9" stroke-width="1"/>
<line x1="1012.0" x2="1886.0" y1="390.5" y2="390.5" stroke="#c9c9c9" stroke-width="1"/>
<line x1="1012.0" x2="1886.0" y1="346.5" y2="346.5" stroke="#c9c9c9" stroke-width="1"/>
<line x1="1012.0" x2="1886.0" y1="302.5" y2="302.5" stroke="#c9c9c9" stroke-width="1"/>
<line x1="1012.0" x2="1886.0" y1="258.5" y2="258.5" stroke="#c9c9c9" stroke-width="1"/>
<line x1="1012.0" x2="1886.0" y1="214.5" y2="214.5" stroke="#c9c9c9" stroke-width="1"/>
<line x1="1012.0" x2="1886.0" y1="170.5" y2="170.5" stroke="#c9c9c9" stroke-width="1"/>
<polygon points="1012.0,417.0 1024.0,413.8 1025.0,430.0 1027.0,430.0 1030.0,436.2 1038.8,440.0 1042.5,435.0 1046.2,436.2 1048.8,429.4 1051.2,434.4 1055.0,430.0 1058.0,420.0 1062.5,412.5 1070.0,390.0 1073.0,381.2 1076.2,381.2 1080.0,370.0 1085.0,337.5 1087.5,321.2 1090.0,321.2 1092.5,313.8 1094.4,316.2 1098.0,307.0 1112.5,266.2 1118.0,240.0 1127.5,212.5 1133.5,192.0 1136.5,200.0 1137.0,216.0 1138.0,255.0 1138.5,260.0 1145.6,243.8 1147.0,261.0 1147.5,292.5 1148.0,306.0 1155.6,293.0 1157.5,310.0 1160.0,306.0 1165.0,301.2 1173.0,296.2 1175.0,287.5 1185.0,283.8 1187.5,279.4 1189.4,281.9 1201.2,262.5 1202.5,318.8 1203.0,318.8 1217.5,302.5 1220.0,297.5 1240.6,280.0 1243.8,286.9 1245.6,285.6 1248.0,278.8 1257.5,275.0 1267.5,274.4 1275.0,275.6 1276.9,315.0 1285.0,316.9 1305.0,322.5 1313.8,322.5 1333.8,331.2 1336.2,330.2 1352.5,335.6 1362.5,340.0 1364.4,360.0 1377.5,368.8 1390.0,378.8 1402.5,388.0 1410.0,395.0 1440.0,423.3 1456.7,437.5 1473.3,453.3 1489.0,466.7 1506.7,478.3 1553.3,503.0 1590.0,520.0 1625.0,532.5 1660.0,540.8 1742.5,552.0 1886.0,558.8 1886.0,562.5 1620.0,560.0 1540.0,558.3 1489.0,556.7 1473.3,553.3 1440.0,542.5 1406.7,528.3 1384.0,519.0 1381.7,511.7 1367.5,504.4 1356.2,497.5 1340.0,488.5 1327.5,480.0 1313.8,471.2 1293.8,465.0 1291.9,467.5 1276.9,463.0 1275.0,460.6 1243.0,448.8 1241.2,439.4 1232.5,435.6 1230.0,436.2 1216.2,431.9 1213.8,423.8 1205.0,420.0 1195.0,412.5 1191.2,415.0 1167.5,408.8 1155.6,409.4 1152.5,400.0 1145.0,401.9 1143.8,408.8 1138.5,410.0 1138.0,389.4 1136.6,348.5 1135.6,347.5 1131.2,352.5 1125.0,362.5 1117.5,377.0 1110.0,382.0 1108.8,386.0 1107.0,401.0 1101.0,411.0 1094.6,428.8 1092.0,416.0 1090.0,426.2 1087.5,409.0 1083.0,423.0 1080.6,421.0 1078.0,431.0 1075.6,437.5 1070.0,440.0 1065.0,448.8 1061.2,445.0 1053.8,456.2 1051.2,458.8 1048.0,453.8 1046.2,460.0 1041.2,461.2 1030.0,455.0 1026.0,453.8 1024.0,448.0 1012.0,449.0" fill="#e8e8e8"/>
<polygon points="1012.0,431.0 1024.0,429.0 1025.0,430.0 1027.0,430.0 1030.0,436.2 1038.8,440.0 1042.5,435.0 1046.2,436.2 1048.8,429.4 1051.2,434.4 1055.0,430.0 1058.0,420.0 1060.0,424.0 1063.0,425.0 1053.8,451.9 1048.0,441.9 1046.2,448.5 1040.6,445.6 1038.8,451.9 1028.8,446.9 1026.2,448.0 1024.4,435.6 1019.4,438.5 1017.0,437.5 1015.0,438.8 1012.0,437.5" fill="#d0d0d0"/>
<polygon points="1096.2,315.0 1112.5,266.2 1118.0,240.0 1127.5,212.5 1133.5,192.0 1136.5,200.0 1136.8,208.0 1134.4,198.8 1129.5,213.0 1120.0,240.5 1114.5,267.0 1098.5,315.0" fill="#d0d0d0"/>
<polygon points="1138.5,262.0 1144.5,250.0 1146.0,262.0 1138.7,276.0" fill="#d0d0d0"/>
<polygon points="1156.2,372.5 1165.0,362.5 1173.0,355.0 1175.0,343.8 1181.2,340.0 1192.5,336.2 1198.8,334.4 1202.0,335.6 1202.5,396.2 1195.0,403.8 1190.0,411.9 1181.2,409.4 1167.5,406.9 1165.0,389.4 1158.0,391.2" fill="#d0d0d0"/>
<polygon points="1203.8,343.0 1218.8,336.2 1222.5,331.9 1232.5,328.8 1247.5,328.0 1250.4,323.8 1252.5,328.5 1265.0,331.9 1276.9,336.9 1279.0,370.0 1290.0,376.9 1302.5,385.0 1315.0,394.4 1327.5,405.0 1340.0,417.5 1352.5,428.8 1365.0,440.0 1377.5,451.2 1385.0,459.4 1408.3,474.0 1440.0,494.5 1473.3,513.2 1489.0,522.5 1523.3,534.0 1555.0,542.5 1590.0,549.0 1620.0,552.0 1660.0,553.7 1742.5,556.5 1886.0,560.0 1886.0,562.0 1620.0,557.5 1556.7,553.8 1523.3,549.7 1489.0,543.8 1456.7,528.8 1423.3,512.2 1390.0,494.5 1377.5,489.2 1365.0,481.7 1352.5,474.2 1340.0,465.5 1327.5,456.7 1313.8,446.7 1290.0,436.7 1265.0,425.5 1242.5,415.5 1233.0,413.0 1204.0,397.5" fill="#d0d0d0"/>
<polygon points="1075.0,425.0 1080.0,400.0 1087.5,371.2 1092.5,357.5 1098.8,343.8 1103.8,325.0 1108.0,315.0 1110.0,300.0 1113.8,288.8 1117.5,282.5 1118.8,266.2 1123.8,250.0 1130.0,232.5 1135.6,216.2 1137.0,230.0 1138.0,255.0 1138.5,280.0 1146.2,262.5 1147.5,292.5 1148.0,320.0 1157.5,317.0 1160.0,312.0 1166.0,308.8 1172.5,305.0 1175.0,295.6 1185.0,291.2 1188.8,288.8 1193.8,290.6 1201.2,285.6 1202.5,300.0 1202.0,335.6 1198.8,334.4 1192.5,336.2 1181.2,340.0 1175.0,343.8 1173.0,355.0 1165.0,362.5 1156.2,372.5 1147.5,380.0 1143.8,380.0 1138.0,389.4 1135.6,323.8 1125.0,350.0 1116.9,371.2 1113.8,371.2 1111.2,366.2 1108.8,372.5 1106.9,393.5 1101.2,403.8 1094.6,419.4 1092.2,408.0 1090.2,416.9 1087.5,400.6 1083.0,415.6 1080.6,413.8 1078.0,424.4 1075.6,430.0" fill="#b8b8b8"/>
<polygon points="1203.8,347.5 1223.8,358.8 1226.2,366.2 1232.5,368.8 1250.6,378.0 1253.0,373.8 1270.0,383.8 1287.5,394.4 1291.2,396.2 1297.0,401.0 1315.0,415.0 1326.2,425.0 1328.0,435.0 1340.0,445.0 1353.8,457.5 1365.0,468.8 1377.5,477.5 1390.0,484.0 1423.3,501.7 1456.7,520.0 1489.0,535.0 1523.3,542.5 1556.7,548.3 1590.0,552.5 1620.0,555.2 1680.0,557.3 1680.0,557.6 1620.0,557.0 1556.7,553.3 1523.3,549.2 1489.0,543.3 1456.7,528.3 1423.3,511.7 1390.0,494.0 1377.5,488.8 1365.0,481.2 1352.5,473.8 1340.0,465.0 1327.5,456.2 1313.8,446.2 1290.0,436.2 1265.0,425.0 1242.5,415.0 1233.0,412.5 1227.5,406.2 1211.2,399.4 1204.0,397.5" fill="#b8b8b8"/>
<polyline points="1011.5,437.5 1015.0,438.8 1017.0,437.5 1019.4,438.5 1024.4,435.6 1026.2,448.0 1028.8,446.9 1038.8,451.9 1040.6,445.6 1046.2,448.5 1048.0,441.9 1053.8,451.9 1063.0,425.0 1065.2,438.8 1072.9,424.4 1075.6,430.0 1078.0,424.4 1080.6,413.8 1083.0,415.6 1087.5,400.6 1090.2,416.9 1092.2,408.0 1094.6,419.4 1101.2,403.8 1106.9,393.5 1108.8,372.5 1111.2,366.2 1113.8,371.2 1116.9,371.2 1125.0,350.0 1135.6,323.8 1138.0,389.4 1143.8,380.0 1145.6,371.9 1150.0,365.0 1155.6,358.8 1157.8,359.8 1165.0,351.9 1173.0,345.6 1175.0,334.4 1180.0,331.2 1182.5,328.0 1190.0,325.6 1196.2,325.0 1201.5,325.9 1204.0,397.5 1211.2,399.4 1227.5,406.2 1241.2,412.8 1252.5,412.5 1266.9,410.2 1269.4,408.0 1296.9,401.2 1299.4,398.0 1313.8,396.5 1326.2,401.9 1328.0,425.6 1340.0,432.5 1373.3,453.3 1408.3,475.0 1440.0,495.5 1473.3,514.2 1489.0,523.5 1523.3,535.0 1555.0,543.5 1590.0,550.0 1620.0,553.0 1660.0,554.7 1742.5,557.5 1886.0,561.0" fill="none" stroke="#000" stroke-width="2.2" stroke-linejoin="miter" stroke-linecap="butt"/>
<text x="1004.0" y="569.4" text-anchor="end" font-size="9.6" stroke="#1a1f2b" stroke-width="0.35" class="yl">0</text>
<text x="1004.0" y="526.1" text-anchor="end" font-size="9.6" stroke="#1a1f2b" stroke-width="0.35" class="yl">100M</text>
<text x="1004.0" y="482.0" text-anchor="end" font-size="9.6" stroke="#1a1f2b" stroke-width="0.35" class="yl">200M</text>
<text x="1004.0" y="437.9" text-anchor="end" font-size="9.6" stroke="#1a1f2b" stroke-width="0.35" class="yl">300M</text>
<text x="1004.0" y="393.8" text-anchor="end" font-size="9.6" stroke="#1a1f2b" stroke-width="0.35" class="yl">400M</text>
<text x="1004.0" y="349.7" text-anchor="end" font-size="9.6" stroke="#1a1f2b" stroke-width="0.35" class="yl">500M</text>
<text x="1004.0" y="305.6" text-anchor="end" font-size="9.6" stroke="#1a1f2b" stroke-width="0.35" class="yl">600M</text>
<text x="1004.0" y="261.5" text-anchor="end" font-size="9.6" stroke="#1a1f2b" stroke-width="0.35" class="yl">700M</text>
<text x="1004.0" y="217.4" text-anchor="end" font-size="9.6" stroke="#1a1f2b" stroke-width="0.35" class="yl">800M</text>
<text x="1004.0" y="173.3" text-anchor="end" font-size="9.6" stroke="#1a1f2b" stroke-width="0.35" class="yl">900M</text>
<line x1="1011.5" x2="1011.5" y1="566.0" y2="576.5" stroke="#c9c9c9" stroke-width="1"/>
<text x="1011.5" y="587.0" text-anchor="middle" font-size="9.6" class="xl">2025</text>
<line x1="1133.5" x2="1133.5" y1="566.0" y2="576.5" stroke="#c9c9c9" stroke-width="1"/>
<text x="1133.5" y="587.0" text-anchor="middle" font-size="9.6" class="xl">2029</text>
<line x1="1255.5" x2="1255.5" y1="566.0" y2="576.5" stroke="#c9c9c9" stroke-width="1"/>
<text x="1255.5" y="587.0" text-anchor="middle" font-size="9.6" class="xl">2033</text>
<line x1="1377.5" x2="1377.5" y1="566.0" y2="576.5" stroke="#c9c9c9" stroke-width="1"/>
<text x="1377.5" y="587.0" text-anchor="middle" font-size="9.6" class="xl">2037</text>
<line x1="1498.5" x2="1498.5" y1="566.0" y2="576.5" stroke="#c9c9c9" stroke-width="1"/>
<text x="1498.5" y="587.0" text-anchor="middle" font-size="9.6" class="xl">2041</text>
<line x1="1620.5" x2="1620.5" y1="566.0" y2="576.5" stroke="#c9c9c9" stroke-width="1"/>
<text x="1620.5" y="587.0" text-anchor="middle" font-size="9.6" class="xl">2045</text>
<line x1="1742.5" x2="1742.5" y1="566.0" y2="576.5" stroke="#c9c9c9" stroke-width="1"/>
<text x="1742.5" y="587.0" text-anchor="middle" font-size="9.6" class="xl">2050</text>
<line x1="1864.5" x2="1864.5" y1="566.0" y2="576.5" stroke="#c9c9c9" stroke-width="1"/>
<text x="1864.5" y="587.0" text-anchor="middle" font-size="9.6" class="xl">2054</text>
<line x1="53.0" x2="927.0" y1="1043.5" y2="1043.5" stroke="#c9c9c9" stroke-width="1"/>
<line x1="53.0" x2="927.0" y1="1013.5" y2="1013.5" stroke="#c9c9c9" stroke-width="1"/>
<line x1="53.0" x2="927.0" y1="982.5" y2="982.5" stroke="#c9c9c9" stroke-width="1"/>
<line x1="53.0" x2="927.0" y1="952.5" y2="952.5" stroke="#c9c9c9" stroke-width="1"/>
<line x1="53.0" x2="927.0" y1="921.5" y2="921.5" stroke="#c9c9c9" stroke-width="1"/>
<line x1="53.0" x2="927.0" y1="891.5" y2="891.5" stroke="#c9c9c9" stroke-width="1"/>
<line x1="53.0" x2="927.0" y1="860.5" y2="860.5" stroke="#c9c9c9" stroke-width="1"/>
<line x1="53.0" x2="927.0" y1="830.5" y2="830.5" stroke="#c9c9c9" stroke-width="1"/>
<line x1="53.0" x2="927.0" y1="799.5" y2="799.5" stroke="#c9c9c9" stroke-width="1"/>
<line x1="53.0" x2="927.0" y1="769.5" y2="769.5" stroke="#c9c9c9" stroke-width="1"/>
<line x1="53.0" x2="927.0" y1="738.5" y2="738.5" stroke="#c9c9c9" stroke-width="1"/>
<line x1="53.0" x2="927.0" y1="707.5" y2="707.5" stroke="#c9c9c9" stroke-width="1"/>
<line x1="53.0" x2="927.0" y1="677.5" y2="677.5" stroke="#c9c9c9" stroke-width="1"/>
<line x1="53.0" x2="927.0" y1="646.5" y2="646.5" stroke="#c9c9c9" stroke-width="1"/>
<polygon points="98.8,1002.5 105.0,977.5 111.2,953.8 117.5,932.5 123.8,916.2 128.8,900.0 134.0,890.0 143.0,860.0 155.0,830.6 168.5,799.4 172.5,790.0 175.5,762.5 181.0,752.5 184.0,745.0 185.5,730.0 193.5,716.0 195.5,710.0 201.0,705.0 212.0,700.5 216.0,703.0 226.2,703.8 231.2,698.8 242.5,695.0 245.0,672.5 262.5,672.0 282.5,673.8 290.0,677.5 315.5,690.0 318.8,677.5 335.0,687.5 355.0,703.8 375.0,727.5 402.5,755.0 405.5,751.2 425.0,770.0 436.2,780.0 453.8,798.8 475.0,825.0 487.5,838.8 510.0,861.2 530.0,880.0 550.0,893.0 575.0,906.2 600.0,921.2 665.0,945.0 715.0,955.0 790.0,966.2 927.0,972.5 927.0,977.5 665.0,977.0 530.0,973.0 465.0,951.0 440.0,942.0 425.0,938.0 400.0,927.5 375.0,915.0 355.0,905.0 325.0,893.8 300.0,888.8 282.5,885.0 275.0,882.5 257.5,878.0 250.0,875.0 229.5,870.0 227.5,873.0 208.8,870.0 206.2,877.0 198.8,877.0 197.5,884.0 190.0,885.0 179.0,892.0 177.0,922.0 170.0,922.0 155.0,934.0 150.0,942.0 130.0,972.0 127.5,982.0 110.0,997.0 100.0,1012.0 92.0,1016.0 89.5,1030.0 82.0,1028.0 67.0,1028.5 65.0,1034.0 52.5,1034.0 52.5,1023.5 65.0,1024.5 67.0,1021.0 87.0,1020.5 90.0,1010.0" fill="#e8e8e8"/>
<polygon points="99.5,1002.5 106.6,983.0 112.8,961.0 119.0,939.5 126.3,919.0 132.5,899.5 137.5,889.5 146.8,859.5 158.7,830.0 172.4,799.0 176.2,789.5 178.2,762.5 183.8,752.5 186.3,747.5 187.5,730.0 196.3,717.5 197.6,711.5 203.8,707.2 212.3,703.3 216.2,705.6 227.0,706.3 230.5,703.5 243.0,699.0 245.0,676.2 262.5,675.0 282.5,677.5 300.0,690.0 317.5,701.2 320.0,693.8 335.0,705.0 350.0,721.2 362.5,737.5 375.0,757.5 392.5,780.0 403.8,793.8 425.0,816.2 437.5,830.0 450.0,842.5 462.5,858.8 475.0,873.8 481.2,882.5 487.5,889.6 500.0,898.4 521.2,913.4 530.0,921.5 595.0,951.0 662.5,963.5 765.0,968.5 927.0,973.5 927.0,976.5 765.0,972.0 662.5,971.0 595.0,968.0 530.0,951.0 485.0,927.5 462.5,907.5 450.0,900.0 425.0,887.5 400.0,872.5 375.0,856.2 362.5,847.5 350.0,838.8 335.0,835.0 317.0,830.0 315.0,841.2 287.5,840.0 275.0,841.2 256.2,848.8 250.0,855.0 229.5,863.8 227.5,871.2 208.8,868.8 206.2,875.0 198.8,875.0 197.5,882.5 190.0,883.8 179.0,890.0 177.0,920.0 170.0,920.0 155.0,932.5 150.0,940.0 130.0,970.0 127.5,980.0 110.0,995.0 100.0,1010.0" fill="#d0d0d0"/>
<polygon points="100.0,1002.5 107.5,985.0 113.8,962.5 120.0,941.2 127.5,920.0 133.8,900.0 138.8,890.0 148.1,860.0 160.0,830.6 173.8,799.4 177.5,790.0 179.4,762.5 185.0,752.5 187.5,748.8 188.8,730.0 197.5,718.8 198.8,712.5 205.0,708.8 212.5,705.0 216.2,707.2 227.5,708.0 230.0,706.9 243.0,710.6 244.4,691.9 265.0,703.0 267.5,703.0 292.5,725.0 317.5,743.8 335.0,756.2 355.0,777.5 358.8,780.0 366.2,791.2 375.0,800.0 380.0,808.0 387.5,815.0 400.0,823.8 425.0,846.2 437.5,860.0 450.0,875.0 462.5,890.0 475.0,902.5 485.0,914.4 530.0,941.2 595.0,960.0 662.5,967.5 720.0,970.3 720.0,970.6 662.5,970.0 595.0,966.2 530.0,948.8 485.0,925.0 472.5,914.4 462.5,906.2 450.0,898.8 425.0,883.8 400.0,866.2 375.0,848.0 362.5,838.8 350.0,829.4 325.0,817.5 300.0,802.5 282.0,791.0 279.2,792.0 250.0,779.0 245.0,778.0 242.5,802.5 232.5,802.5 220.0,804.2 216.2,806.2 213.8,804.2 200.0,816.2 187.5,830.5 183.8,833.5 179.0,841.2 177.0,868.8 157.5,903.8 153.8,918.8 150.0,923.8 147.5,920.0 136.2,936.2 132.5,946.2 130.5,948.8 128.0,959.5 125.0,962.5 121.2,970.0 117.5,973.8 113.8,982.5 106.2,993.8 103.8,1001.2 101.2,1003.8 101.2,1003.8" fill="#b8b8b8"/>
<polyline points="52.5,1027.5 65.0,1028.8 67.0,1024.5 80.0,1023.0 82.0,1025.0 87.5,1023.8 89.5,1027.0 92.0,1012.0 95.0,1007.5 101.2,1003.8 103.8,1001.2 106.2,993.8 113.8,982.5 117.5,973.8 121.2,970.0 125.0,962.5 128.0,959.5 130.5,948.8 132.5,946.2 136.2,936.2 147.5,920.0 150.0,923.8 153.8,918.8 157.5,903.8 177.0,868.8 179.0,841.2 183.8,833.5 187.5,830.5 200.0,816.2 213.8,804.2 216.2,806.2 220.0,804.2 232.5,802.5 242.5,802.5 245.0,778.0 250.0,779.0 279.2,792.0 282.0,789.5 300.0,793.8 312.5,795.8 335.0,796.5 350.0,800.0 355.0,801.2 366.9,809.4 369.4,802.8 387.5,815.0 412.5,831.9 437.5,850.0 450.0,858.0 462.5,869.4 475.0,880.0 487.5,890.6 500.0,899.4 521.2,914.4 530.0,922.5 595.0,952.5 662.5,965.0 765.0,970.0 927.0,975.0" fill="none" stroke="#000" stroke-width="2.2" stroke-linejoin="miter" stroke-linecap="butt"/>
<text x="45.0" y="985.9" text-anchor="end" font-size="9.6" stroke="#1a1f2b" stroke-width="0.35" class="yl">0</text>
<text x="45.0" y="909.6" text-anchor="end" font-size="9.6" stroke="#1a1f2b" stroke-width="0.35" class="yl">500M</text>
<text x="45.0" y="833.4" text-anchor="end" font-size="9.6" stroke="#1a1f2b" stroke-width="0.35" class="yl">1B</text>
<text x="45.0" y="757.1" text-anchor="end" font-size="9.6" stroke="#1a1f2b" stroke-width="0.35" class="yl">1.5B</text>
<text x="45.0" y="680.9" text-anchor="end" font-size="9.6" stroke="#1a1f2b" stroke-width="0.35" class="yl">2B</text>
<line x1="52.5" x2="52.5" y1="1043.0" y2="1053.5" stroke="#c9c9c9" stroke-width="1"/>
<text x="52.5" y="1063.5" text-anchor="middle" font-size="9.6" class="xl">2025</text>
<line x1="174.5" x2="174.5" y1="1043.0" y2="1053.5" stroke="#c9c9c9" stroke-width="1"/>
<text x="174.5" y="1063.5" text-anchor="middle" font-size="9.6" class="xl">2029</text>
<line x1="296.5" x2="296.5" y1="1043.0" y2="1053.5" stroke="#c9c9c9" stroke-width="1"/>
<text x="296.5" y="1063.5" text-anchor="middle" font-size="9.6" class="xl">2033</text>
<line x1="418.5" x2="418.5" y1="1043.0" y2="1053.5" stroke="#c9c9c9" stroke-width="1"/>
<text x="418.5" y="1063.5" text-anchor="middle" font-size="9.6" class="xl">2037</text>
<line x1="539.5" x2="539.5" y1="1043.0" y2="1053.5" stroke="#c9c9c9" stroke-width="1"/>
<text x="539.5" y="1063.5" text-anchor="middle" font-size="9.6" class="xl">2041</text>
<line x1="661.5" x2="661.5" y1="1043.0" y2="1053.5" stroke="#c9c9c9" stroke-width="1"/>
<text x="661.5" y="1063.5" text-anchor="middle" font-size="9.6" class="xl">2045</text>
<line x1="783.5" x2="783.5" y1="1043.0" y2="1053.5" stroke="#c9c9c9" stroke-width="1"/>
<text x="783.5" y="1063.5" text-anchor="middle" font-size="9.6" class="xl">2050</text>
<line x1="905.5" x2="905.5" y1="1043.0" y2="1053.5" stroke="#c9c9c9" stroke-width="1"/>
<text x="905.5" y="1063.5" text-anchor="middle" font-size="9.6" class="xl">2054</text>
<line x1="1012.0" x2="1887.0" y1="1033.5" y2="1033.5" stroke="#c9c9c9" stroke-width="1"/>
<line x1="1012.0" x2="1887.0" y1="1001.5" y2="1001.5" stroke="#c9c9c9" stroke-width="1"/>
<line x1="1012.0" x2="1887.0" y1="969.5" y2="969.5" stroke="#c9c9c9" stroke-width="1"/>
<line x1="1012.0" x2="1887.0" y1="936.5" y2="936.5" stroke="#c9c9c9" stroke-width="1"/>
<line x1="1012.0" x2="1887.0" y1="904.5" y2="904.5" stroke="#c9c9c9" stroke-width="1"/>
<line x1="1012.0" x2="1887.0" y1="872.5" y2="872.5" stroke="#c9c9c9" stroke-width="1"/>
<line x1="1012.0" x2="1887.0" y1="840.5" y2="840.5" stroke="#c9c9c9" stroke-width="1"/>
<line x1="1012.0" x2="1887.0" y1="807.5" y2="807.5" stroke="#c9c9c9" stroke-width="1"/>
<line x1="1012.0" x2="1887.0" y1="775.5" y2="775.5" stroke="#c9c9c9" stroke-width="1"/>
<line x1="1012.0" x2="1887.0" y1="743.5" y2="743.5" stroke="#c9c9c9" stroke-width="1"/>
<line x1="1012.0" x2="1887.0" y1="711.5" y2="711.5" stroke="#c9c9c9" stroke-width="1"/>
<line x1="1012.0" x2="1887.0" y1="678.5" y2="678.5" stroke="#c9c9c9" stroke-width="1"/>
<line x1="1012.0" x2="1887.0" y1="646.5" y2="646.5" stroke="#c9c9c9" stroke-width="1"/>
<rect x="1048.0" y="932.0" width="84" height="101.5" fill="#d0d0d0"/>
<rect x="1168.0" y="879.0" width="84" height="154.5" fill="#b8b8b8"/>
<rect x="1287.5" y="840.0" width="84" height="193.5" fill="#a0a0a0"/>
<rect x="1407.5" y="803.0" width="84" height="230.5" fill="#000000"/>
<rect x="1527.5" y="751.0" width="84" height="282.5" fill="#a0a0a0"/>
<rect x="1647.0" y="703.0" width="84" height="330.5" fill="#b8b8b8"/>
<rect x="1767.0" y="656.5" width="84" height="377.0" fill="#d0d0d0"/>
<text x="1004.0" y="1036.8" text-anchor="end" font-size="9.6" stroke="#1a1f2b" stroke-width="0.35" class="yl">0</text>
<text x="1004.0" y="1004.5" text-anchor="end" font-size="9.6" stroke="#1a1f2b" stroke-width="0.35" class="yl">2B</text>
<text x="1004.0" y="972.3" text-anchor="end" font-size="9.6" stroke="#1a1f2b" stroke-width="0.35" class="yl">4B</text>
<text x="1004.0" y="940.0" text-anchor="end" font-size="9.6" stroke="#1a1f2b" stroke-width="0.35" class="yl">6B</text>
<text x="1004.0" y="907.8" text-anchor="end" font-size="9.6" stroke="#1a1f2b" stroke-width="0.35" class="yl">8B</text>
<text x="1004.0" y="875.5" text-anchor="end" font-size="9.6" stroke="#1a1f2b" stroke-width="0.35" class="yl">10B</text>
<text x="1004.0" y="843.3" text-anchor="end" font-size="9.6" stroke="#1a1f2b" stroke-width="0.35" class="yl">12B</text>
<text x="1004.0" y="811.0" text-anchor="end" font-size="9.6" stroke="#1a1f2b" stroke-width="0.35" class="yl">14B</text>
<text x="1004.0" y="778.8" text-anchor="end" font-size="9.6" stroke="#1a1f2b" stroke-width="0.35" class="yl">16B</text>
<text x="1004.0" y="746.5" text-anchor="end" font-size="9.6" stroke="#1a1f2b" stroke-width="0.35" class="yl">18B</text>
<text x="1004.0" y="714.3" text-anchor="end" font-size="9.6" stroke="#1a1f2b" stroke-width="0.35" class="yl">20B</text>
<text x="1004.0" y="682.0" text-anchor="end" font-size="9.6" stroke="#1a1f2b" stroke-width="0.35" class="yl">22B</text>
<text x="1004.0" y="649.8" text-anchor="end" font-size="9.6" stroke="#1a1f2b" stroke-width="0.35" class="yl">24B</text>
<line x1="1089.5" x2="1089.5" y1="1033.0" y2="1043.5" stroke="#c9c9c9" stroke-width="1"/>
<text x="1089.5" y="1053.5" text-anchor="middle" font-size="9.6" class="xl">P5</text>
<line x1="1209.5" x2="1209.5" y1="1033.0" y2="1043.5" stroke="#c9c9c9" stroke-width="1"/>
<text x="1209.5" y="1053.5" text-anchor="middle" font-size="9.6" class="xl">P15</text>
<line x1="1329.5" x2="1329.5" y1="1033.0" y2="1043.5" stroke="#c9c9c9" stroke-width="1"/>
<text x="1329.0" y="1053.5" text-anchor="middle" font-size="9.6" class="xl">P30</text>
<line x1="1449.5" x2="1449.5" y1="1033.0" y2="1043.5" stroke="#c9c9c9" stroke-width="1"/>
<text x="1449.0" y="1053.5" text-anchor="middle" font-size="9.6" class="xl">P50</text>
<line x1="1569.5" x2="1569.5" y1="1033.0" y2="1043.5" stroke="#c9c9c9" stroke-width="1"/>
<text x="1569.0" y="1053.5" text-anchor="middle" font-size="9.6" class="xl">P70</text>
<line x1="1688.5" x2="1688.5" y1="1033.0" y2="1043.5" stroke="#c9c9c9" stroke-width="1"/>
<text x="1688.5" y="1053.5" text-anchor="middle" font-size="9.6" class="xl">P85</text>
<line x1="1808.5" x2="1808.5" y1="1033.0" y2="1043.5" stroke="#c9c9c9" stroke-width="1"/>
<text x="1808.5" y="1053.5" text-anchor="middle" font-size="9.6" class="xl">P95</text>
</g></svg>

<div class="tip">
  <div class="h" style="top:7px">Nov 2034</div>
  <div style="top:27px">P5: 767M</div>
  <div style="top:43px">P15: 1.37B</div>
  <div style="top:59px">P30: 1.33B</div>
  <div class="b" style="top:75px">P50: 1.59B</div>
  <div style="top:91px">P70: 1.82B</div>
  <div style="top:107px">P85: 2.2B</div>
  <div style="top:123px">P95: 2.47B</div>
</div>
</body>
</html>
